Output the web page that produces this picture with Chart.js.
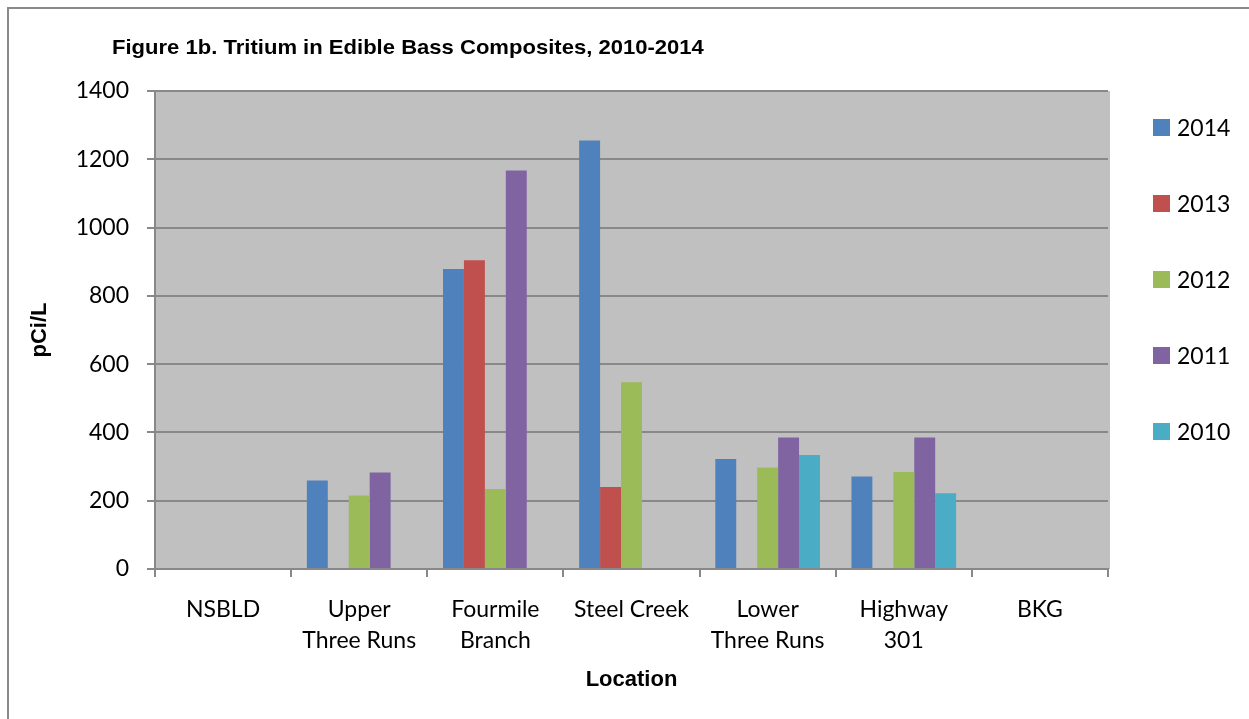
<!DOCTYPE html>
<html lang="en">
<head>
  <meta charset="UTF-8">
  <title>Figure 1b. Tritium in Edible Bass Composites</title>
  <script src="https://cdn.jsdelivr.net/npm/chart.js"></script>
  <style>
    body { margin: 0; overflow: hidden; background: #fff; }
    #wrap { position: relative; width: 1249px; height: 719px; }
    #frame {
      position: absolute; left: 7px; top: 7px; width: 1300px; height: 800px;
      border: 2px solid #8a8a8a; pointer-events: none;
    }
    #figTitle {
      position: absolute; left: 112px; top: 35px;
      font-family: "Liberation Sans", Arial, sans-serif; font-weight: bold; font-size: 21px;
      line-height: 24px; color: #000; white-space: nowrap;
      transform: scaleX(1.05); transform-origin: left center;
    }
    #legend { position: absolute; left: 1153px; top: 0; }
    .item {
      position: absolute; left: 0; height: 20px; white-space: nowrap;
      font-family: Lato, sans-serif; font-size: 23px; line-height: 20px; color: #000;
    }
    .item span.box { display: inline-block; width: 17px; height: 17px; vertical-align: top; margin-top: 2px; margin-right: 7px; }
    canvas { position: absolute; left: 0; top: 0; }
  </style>
</head>
<body>
<div id="wrap">
  <canvas id="bassChart" width="1249" height="719"></canvas>
  <div id="frame"></div>
  <div id="figTitle">Figure 1b. Tritium in Edible Bass Composites, 2010-2014</div>
  <div id="legend"></div>
</div>
<script>
// categories (locations)
const locations = [['NSBLD'], ['Upper', 'Three Runs'], ['Fourmile', 'Branch'], ['Steel Creek'], ['Lower', 'Three Runs'], ['Highway', '301'], ['BKG']];
const years = ['2014', '2013', '2012', '2011', '2010'];
const colors = ['#4f81bd', '#c0504d', '#9bbb59', '#8064a2', '#4bacc6'];
// pCi/L per location
const y2014 = [null, 259, 879, 1255, 322, 271, null];
const y2013 = [null, null, 904, 240, null, null, null];
const y2012 = [null, 215, 234, 547, 297, 284, null];
const y2011 = [null, 283, 1167, null, 385, 385, null];
const y2010 = [null, null, null, null, 334, 222, null];
const yTicks = [0, 200, 400, 600, 800, 1000, 1200, 1400];

const series = [y2014, y2013, y2012, y2011, y2010];

// grey plot background like excel
const plotBg = {
  id: 'plotBg',
  beforeDraw(chart) {
    const a = chart.chartArea;
    const c = chart.ctx;
    c.save();
    c.fillStyle = '#c0c0c0';
    c.fillRect(a.left, a.top, a.right - a.left + 2, a.bottom - a.top);
    c.restore();
  }
};

const gridCol = '#888888';
const ctx = document.getElementById('bassChart').getContext('2d');
const chart = new Chart(ctx, {
  type: 'bar',
  data: {
    labels: locations,
    datasets: series.map((d, i) => ({
      label: years[i],
      data: d,
      backgroundColor: colors[i],
      categoryPercentage: 0.769,
      barPercentage: 1
    }))
  },
  options: {
    responsive: false,
    animation: false,
    layout: { padding: { top: 91, right: 141, left: 0, bottom: 0 } },
    plugins: {
      legend: { display: false },
      tooltip: { enabled: false }
    },
    scales: {
      x: {
        grid: { display: true, drawOnChartArea: false, color: gridCol, lineWidth: 2, tickLength: 8 },
        border: { color: gridCol, width: 2 },
        ticks: {
          color: '#000', padding: 17,
          font: { family: 'Lato', size: 23, lineHeight: 1.35 }
        },
        title: {
          display: true, text: 'Location', color: '#000',
          font: { family: 'Liberation Sans', size: 22, weight: 'bold' },
          padding: { top: 0, bottom: 26 }
        },
        afterFit: s => { s.height = 150; }
      },
      y: {
        min: 0, max: 1400,
        afterBuildTicks: s => { s.ticks = yTicks.map(v => ({ value: v })); },
        grid: { color: gridCol, lineWidth: 2, tickLength: 8 },
        border: { color: gridCol, width: 2 },
        ticks: {
          color: '#000', padding: 18,
          font: { family: 'Lato', size: 23 },
          callback: v => String(v)
        },
        title: {
          display: true, text: 'pCi/L', color: '#000',
          font: { family: 'Liberation Sans', size: 22, weight: 'bold' },
          padding: { top: 27, bottom: 0 }
        },
        afterFit: s => { s.width = 155; }
      }
    }
  },
  plugins: [plotBg]
});

// legend on the right, built from the same arrays
const legend = document.getElementById('legend');
years.forEach((y, i) => {
  const el = document.createElement('div');
  el.className = 'item';
  el.style.top = (117 + i * 76) + 'px';
  el.innerHTML = `<span class="box" style="background:${colors[i]}"></span>${y}`;
  legend.appendChild(el);
});
</script>
</body>
</html>
